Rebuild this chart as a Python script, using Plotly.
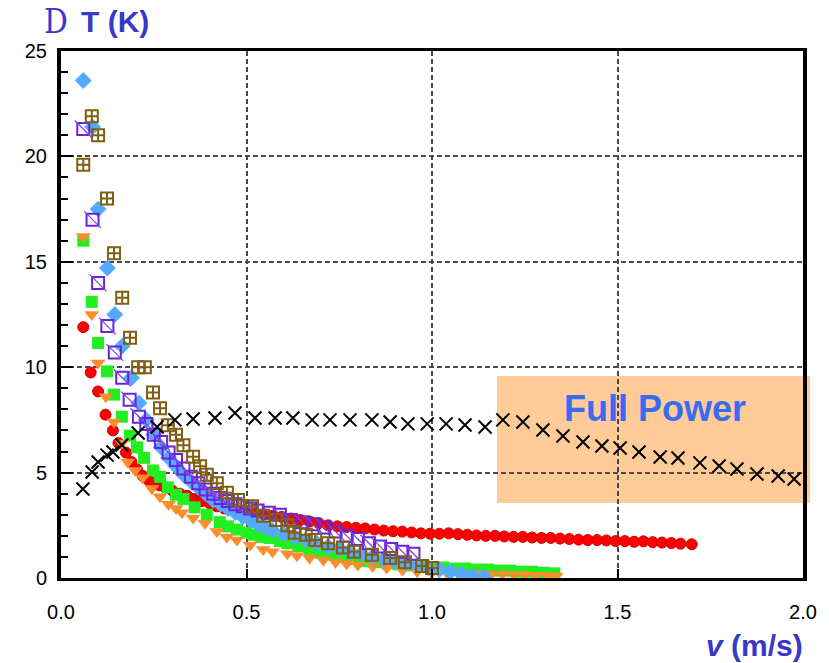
import plotly.graph_objects as go

# ---------------- data ----------------
red_x = [0.06, 0.08, 0.10, 0.12, 0.14, 0.155, 0.175, 0.19, 0.205, 0.22, 0.235, 0.25, 0.265, 0.28,
         0.30, 0.32, 0.34, 0.36, 0.38, 0.40, 0.42, 0.44, 0.46, 0.48, 0.50, 0.52, 0.545, 0.57,
         0.595, 0.62, 0.645, 0.67, 0.695, 0.72, 0.745, 0.77, 0.795, 0.82, 0.845, 0.87, 0.895,
         0.92, 0.945, 0.97, 0.995, 1.02, 1.045, 1.07, 1.095, 1.12, 1.145, 1.17, 1.195, 1.22,
         1.245, 1.27, 1.295, 1.32, 1.345, 1.37, 1.395, 1.42, 1.445, 1.47, 1.495, 1.52, 1.545,
         1.57, 1.595, 1.62, 1.645, 1.67, 1.70]
red_y = [11.9, 9.75, 8.85, 7.75, 7.0, 6.4, 5.95, 5.5, 5.15, 4.85, 4.65, 4.5, 4.4, 4.3,
         4.15, 4.0, 3.9, 3.75, 3.65, 3.55, 3.4, 3.3, 3.25, 3.2, 3.1, 3.05, 3.0, 2.95,
         2.9, 2.82, 2.75, 2.68, 2.6, 2.5, 2.45, 2.42, 2.38, 2.35, 2.3, 2.25, 2.22,
         2.2, 2.16, 2.12, 2.1, 2.1, 2.12, 2.08, 2.05, 2.02, 2.0, 2.0, 1.97, 1.95,
         1.95, 1.92, 1.9, 1.9, 1.87, 1.85, 1.82, 1.8, 1.8, 1.78, 1.75, 1.75, 1.72,
         1.74, 1.7, 1.68, 1.66, 1.63, 1.6]

green_x = [0.06, 0.083, 0.10, 0.124, 0.143, 0.164, 0.186, 0.205, 0.224, 0.248, 0.267, 0.288,
           0.31, 0.33, 0.36, 0.393, 0.428, 0.45, 0.474, 0.50, 0.52, 0.54, 0.563, 0.59, 0.61,
           0.64, 0.67, 0.70, 0.73, 0.76, 0.79, 0.82, 0.85, 0.88, 0.91, 0.94, 0.97, 1.0, 1.03,
           1.06, 1.09, 1.12, 1.15, 1.18, 1.21, 1.24, 1.27, 1.30, 1.33]
green_y = [16.0, 13.1, 11.15, 9.8, 8.7, 7.65, 6.75, 6.2, 5.7, 5.1, 4.8, 4.3,
           3.95, 3.75, 3.35, 3.0, 2.65, 2.45, 2.3, 2.15, 2.05, 1.95, 1.9, 1.75, 1.65,
           1.5, 1.35, 1.2, 1.1, 1.0, 0.9, 0.8, 0.75, 0.7, 0.65, 0.6, 0.55, 0.5, 0.5,
           0.45, 0.45, 0.4, 0.4, 0.35, 0.35, 0.3, 0.3, 0.25, 0.22]

orange_x = [0.06, 0.083, 0.10, 0.121, 0.143, 0.164, 0.18, 0.20, 0.22, 0.245, 0.267, 0.29,
            0.31, 0.326, 0.356, 0.388, 0.42, 0.447, 0.474, 0.51, 0.545, 0.57, 0.61, 0.636,
            0.67, 0.707, 0.74, 0.77, 0.80, 0.84, 0.878, 0.92, 0.96, 1.0, 1.04, 1.07, 1.10,
            1.13, 1.16, 1.19, 1.22, 1.25, 1.28, 1.31, 1.335]
orange_y = [16.2, 12.5, 10.2, 8.6, 7.4, 6.4, 5.5, 5.1, 4.75, 4.25, 3.85, 3.5,
            3.3, 3.1, 2.85, 2.6, 2.2, 1.95, 1.8, 1.57, 1.35, 1.25, 1.15, 1.05,
            0.95, 0.85, 0.75, 0.68, 0.62, 0.55, 0.47, 0.38, 0.3, 0.25, 0.25, 0.22, 0.2,
            0.2, 0.18, 0.18, 0.15, 0.15, 0.12, 0.12, 0.1]

blue_x = [0.06, 0.085, 0.10, 0.125, 0.145, 0.165, 0.19, 0.21, 0.23, 0.25, 0.27, 0.29, 0.31,
          0.33, 0.35, 0.37, 0.39, 0.41, 0.43, 0.45, 0.47, 0.49, 0.51, 0.53, 0.55, 0.57, 0.60,
          0.63, 0.66, 0.69, 0.72, 0.75, 0.78, 0.81, 0.84, 0.87, 0.90, 0.93, 0.96, 0.99, 1.02,
          1.05, 1.08, 1.11, 1.14]
blue_y = [23.6, 21.4, 17.5, 14.7, 12.5, 11.0, 9.5, 8.3, 7.5, 6.8, 6.2, 5.7, 5.3,
          4.9, 4.6, 4.3, 4.0, 3.7, 3.5, 3.3, 3.1, 2.9, 2.75, 2.55, 2.4, 2.25, 2.1,
          1.95, 1.8, 1.65, 1.5, 1.4, 1.25, 1.15, 1.0, 0.9, 0.8, 0.7, 0.6, 0.5, 0.4,
          0.3, 0.2, 0.1, 0.05]

purple_x = [0.06, 0.085, 0.10, 0.125, 0.145, 0.165, 0.185, 0.21, 0.23, 0.25, 0.27, 0.29,
            0.31, 0.33, 0.35, 0.37, 0.39, 0.41, 0.43, 0.45, 0.47, 0.49, 0.51, 0.53, 0.56,
            0.59, 0.62, 0.65, 0.68, 0.71, 0.74, 0.77, 0.80, 0.83, 0.86, 0.89, 0.92, 0.95]
purple_y = [21.3, 17.0, 14.0, 11.95, 10.7, 9.5, 8.45, 7.65, 7.3, 6.8, 6.45, 5.95,
            5.6, 5.2, 4.8, 4.5, 4.2, 4.0, 3.8, 3.65, 3.5, 3.4, 3.3, 3.2, 3.1,
            3.0, 2.75, 2.65, 2.55, 2.4, 2.2, 2.0, 1.85, 1.65, 1.5, 1.38, 1.25, 1.15]

olive_x = [0.06, 0.083, 0.10, 0.124, 0.143, 0.165, 0.186, 0.208, 0.226, 0.248, 0.267, 0.288,
           0.31, 0.33, 0.356, 0.375, 0.393, 0.42, 0.447, 0.477, 0.515, 0.545, 0.58, 0.61,
           0.63, 0.66, 0.685, 0.72, 0.76, 0.79, 0.838, 0.887, 0.927, 0.973, 1.0]
olive_y = [19.6, 21.9, 21.0, 18.0, 15.4, 13.3, 11.4, 10.0, 10.0, 8.8, 8.05, 7.25,
           6.8, 6.3, 5.75, 5.3, 4.9, 4.5, 4.05, 3.7, 3.4, 2.95, 2.75, 2.5,
           2.15, 2.05, 1.8, 1.65, 1.45, 1.25, 1.1, 0.95, 0.75, 0.57, 0.47]

black_x = [0.059, 0.084, 0.100, 0.124, 0.140, 0.164, 0.208, 0.259, 0.307, 0.356, 0.415, 0.469,
           0.523, 0.577, 0.625, 0.677, 0.725, 0.779, 0.838, 0.887, 0.935, 0.987, 1.038, 1.089,
           1.143, 1.191, 1.245, 1.299, 1.353, 1.407, 1.458, 1.507, 1.558, 1.615, 1.663, 1.722,
           1.774, 1.822, 1.876, 1.933, 1.976]
black_y = [4.22, 5.03, 5.50, 5.83, 5.98, 6.31, 6.88, 7.16, 7.50, 7.54, 7.59, 7.83,
           7.59, 7.59, 7.59, 7.50, 7.50, 7.50, 7.50, 7.40, 7.31, 7.31, 7.31, 7.26,
           7.16, 7.50, 7.40, 7.02, 6.74, 6.45, 6.26, 6.17, 5.98, 5.74, 5.69, 5.46,
           5.31, 5.17, 4.93, 4.84, 4.70]

x_ticks = [0.0, 0.5, 1.0, 1.5, 2.0]
y_ticks = [0, 5, 10, 15, 20, 25]

# ---------------- figure ----------------
fig = go.Figure()


def add(xs, ys, symbol, size, color, line_color=None, line_width=0):
    fig.add_trace(go.Scatter(
        x=xs, y=ys, mode="markers", hoverinfo="skip",
        marker=dict(symbol=symbol, size=size, color=color,
                    line=dict(color=line_color or color, width=line_width)),
    ))


add(red_x, red_y, "circle", 11, "#FF0000", "#D00000", 1)
add(green_x, green_y, "square", 12, "#22EE22")
add(orange_x, orange_y, "triangle-down", 13, "#FF8C2A")
add(blue_x, blue_y, "diamond", 13, "#55AAFF")
add(purple_x, purple_y, "square-open", 12, "#6A22DD", "#6A22DD", 2)
add(purple_x, purple_y, "line-nw-open", 17, "#7A44E0", "#7A44E0", 1.2)
add(olive_x, olive_y, "square-cross-open", 12, "#806010", "#806010", 2)
add(black_x, black_y, "x-thin-open", 13, "black", "black", 2)

fig.add_shape(type="rect", xref="paper", yref="paper",
              x0=0.5875, x1=1.0094, y0=0.1424, y1=0.3832,
              fillcolor="#FFCC99", line=dict(width=0), layer="below")

fig.add_annotation(x=1.601, y=8.02, xref="x", yref="y", text="<b>Full Power</b>",
                   showarrow=False, font=dict(size=36, color="#3A6BF0",
                                              family="Liberation Sans, Arial"))

# y-axis title "D T (K)"
fig.add_annotation(x=(56 - 61) / 742, y=(578 - 21) / 527, xref="paper", yref="paper",
                   text="D", showarrow=False, xanchor="center", yanchor="middle",
                   font=dict(size=33, color="#3838C8", family="DejaVu Serif Condensed, Liberation Serif, serif"))
fig.add_annotation(x=(79 - 61) / 742, y=(578 - 21) / 527, xref="paper", yref="paper",
                   text="<b>T (K)</b>", showarrow=False, xanchor="left", yanchor="middle",
                   font=dict(size=30, color="#3838C8", family="Liberation Sans, Arial"))

# x-axis title
fig.add_annotation(x=(805 - 61) / 742, y=(578 - 645) / 527, xref="paper", yref="paper",
                   text="<b><i>v</i> (m/s)</b>", showarrow=False, xanchor="right",
                   yanchor="middle",
                   font=dict(size=30, color="#3838C8", family="Liberation Sans, Arial"))

fig.update_layout(
    width=829, height=663,
    margin=dict(l=61, r=26, t=51, b=85),
    paper_bgcolor="white", plot_bgcolor="rgba(0,0,0,0)",
    showlegend=False,
    font=dict(family="Liberation Sans, Arial", size=20, color="black"),
)

fig.update_xaxes(
    range=[0, 2], tickvals=x_ticks, ticktext=[f"{v:.1f}" for v in x_ticks],
    showgrid=True, gridcolor="#4A4A4A", gridwidth=1.5, griddash="5px,3px",
    showline=True, linecolor="black", linewidth=3, mirror=True,
    ticks="inside", ticklen=9, tickwidth=2, tickcolor="black",
    zeroline=False, ticklabelstandoff=14,
)
fig.update_yaxes(
    range=[0, 25], tickvals=y_ticks,
    showgrid=True, gridcolor="#4A4A4A", gridwidth=1.5, griddash="5px,3px",
    showline=True, linecolor="black", linewidth=4, mirror=True,
    ticks="inside", ticklen=12, tickwidth=2, tickcolor="black",
    minor=dict(dtick=1, ticks="inside", ticklen=7, tickwidth=2, tickcolor="black", showgrid=False),
    zeroline=False, ticklabelstandoff=6,
)

fig.write_html("out.html")
